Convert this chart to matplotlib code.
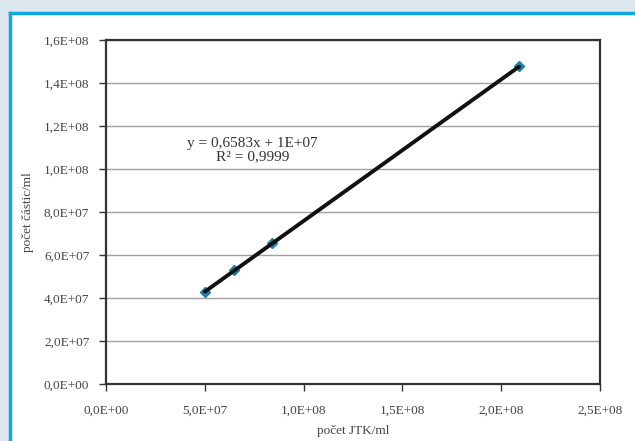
import matplotlib
matplotlib.use("Agg")
import matplotlib.pyplot as plt
from matplotlib.patches import Rectangle
from matplotlib.ticker import FuncFormatter, MultipleLocator
import numpy as np

# measured concentrations
jtk_per_ml = [5.0e7, 6.5e7, 8.4e7, 2.09e8]
particles_per_ml = [4.3e7, 5.3e7, 6.55e7, 1.48e8]

# linear trend
slope = 0.6583
intercept = 1e7
r_squared = 0.9999

x_label = "počet JTK/ml"
y_label = "počet částic/ml"

plt.rcParams["font.family"] = ["Liberation Serif", "DejaVu Serif"]

fig = plt.figure(figsize=(6.35, 4.41), dpi=100)
fig.patch.set_facecolor("#dde7ee")

# white panel with blue left/top border
W, H = 635, 441
panel = Rectangle((10 / W, 0), 1 - 10 / W, 1 - 13 / H, transform=fig.transFigure,
                  facecolor="white", edgecolor="none", zorder=-5)
fig.patches.append(panel)
fig.add_artist(plt.Line2D([10 / W, 10 / W], [0, 1 - 13 / H], transform=fig.transFigure,
                          color="#11a7e4", lw=2.5, zorder=-4))
fig.add_artist(plt.Line2D([10 / W, 1], [1 - 13 / H, 1 - 13 / H], transform=fig.transFigure,
                          color="#11a7e4", lw=2.5, zorder=-4))

ax = fig.add_axes([106 / W, 1 - 384 / H, (600 - 106) / W, (384 - 40) / H])
ax.set_facecolor("white")
ax.set_xlim(0, 2.5e8)
ax.set_ylim(0, 1.6e8)
ax.xaxis.set_major_locator(MultipleLocator(5e7))
ax.yaxis.set_major_locator(MultipleLocator(2e7))


def sci_comma(v, pos):
    return f"{v:.1E}".replace(".", ",")


ax.xaxis.set_major_formatter(FuncFormatter(sci_comma))
ax.yaxis.set_major_formatter(FuncFormatter(sci_comma))

ax.grid(axis="y", color="#a0a0a0", lw=1.0)
ax.set_axisbelow(True)
for sp in ax.spines.values():
    sp.set_color("#333333")
    sp.set_linewidth(1.6)

ax.tick_params(axis="both", direction="out", length=5, width=1, color="#333333",
               labelsize=9.5, labelcolor="#444444")
ax.tick_params(axis="x", pad=10)
ax.tick_params(axis="y", pad=7)

xs = np.array([min(jtk_per_ml), max(jtk_per_ml)])
ax.plot(xs, slope * xs + intercept, color="#111111", lw=2.8, zorder=3,
        solid_capstyle="round")
ax.plot(jtk_per_ml, particles_per_ml, linestyle="none", marker="D", ms=5,
        color="#1e7ea6", markeredgecolor="#1e7ea6", zorder=2)

eq = f"y = {slope:.4f}x + 1E+07".replace(".", ",")
r2 = f"R² = {r_squared:.4f}".replace(".", ",")
ax.text(0.296, 0.68, eq + "\n" + r2, transform=ax.transAxes, ha="center", va="center",
        fontsize=11, color="#333333", linespacing=1.0)

ax.set_xlabel(x_label, fontsize=9.5, color="#444444", labelpad=6)
ax.set_ylabel(y_label, fontsize=9.5, color="#444444", labelpad=7)

fig.savefig("out.png", dpi=100, facecolor=fig.get_facecolor())
